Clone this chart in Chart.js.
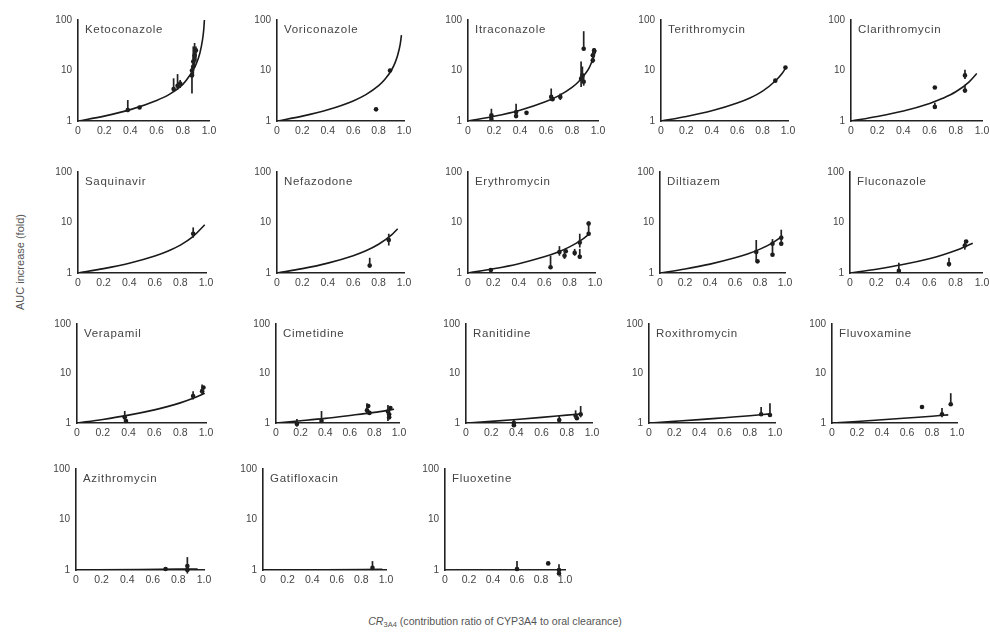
<!DOCTYPE html>
<html>
<head>
<meta charset="utf-8">
<script src="https://cdn.jsdelivr.net/npm/chart.js@4.4.0/dist/chart.umd.min.js"></script>
<style>
  html,body{margin:0;padding:0;background:#fff;}
  #wrap{position:relative;width:990px;height:639px;overflow:hidden;background:#fff;font-family:"Liberation Sans",Arial,sans-serif;}
  canvas{position:absolute;}
  #ytitle{position:absolute;left:20px;top:262px;transform:translate(-50%,-50%) rotate(-90deg);white-space:nowrap;font-size:11px;color:#555;}
  #xtitle{position:absolute;left:495px;top:622px;transform:translate(-50%,-50%);white-space:nowrap;font-size:10.6px;color:#555;}
  #xtitle sub{font-size:7.5px;vertical-align:-2px;}
</style>
</head>
<body>
<div id="wrap">
  <div id="ytitle">AUC increase (fold)</div>
  <div id="xtitle"><i>CR</i><sub>3A4</sub> (contribution ratio of CYP3A4 to oral clearance)</div>
</div>
<script>
// ---------- data ----------
const drugNames = ["Ketoconazole","Voriconazole","Itraconazole","Terithromycin","Clarithromycin",
  "Saquinavir","Nefazodone","Erythromycin","Diltiazem","Fluconazole",
  "Verapamil","Cimetidine","Ranitidine","Roxithromycin","Fluvoxamine",
  "Azithromycin","Gatifloxacin","Fluoxetine"];
const xTickValues = [0,0.2,0.4,0.6,0.8,1.0];
const xTickLabels = ["0","0.2","0.4","0.6","0.8","1.0"];
const yTickValues = [1,10,100];
const yTickLabels = ["1","10","100"];

// predicted curves: [CR, AUC ratio]
const ketoconazoleCurve = [[0,1],[0.2,1.25],[0.4,1.68],[0.6,2.55],[0.7,3.4],[0.8,5.3],[0.85,7.8],[0.9,13],[0.93,22],[0.95,40],[0.96,65],[0.965,100]];
const voriconazoleCurve = [[0,1],[0.2,1.25],[0.4,1.67],[0.6,2.5],[0.7,3.33],[0.8,5],[0.85,6.7],[0.9,10],[0.93,14.3],[0.95,20],[0.97,33],[0.98,50]];
const itraconazoleCurve = [[0,1],[0.2,1.24],[0.4,1.64],[0.6,2.43],[0.7,3.18],[0.8,4.63],[0.85,6],[0.9,8.5],[0.93,11],[0.95,14.4],[0.97,20],[0.985,25]];
const terithromycinCurve = [[0,1],[0.2,1.23],[0.4,1.59],[0.6,2.27],[0.7,2.86],[0.8,3.91],[0.9,6.2],[0.95,8.5],[0.98,11]];
const clarithromycinCurve = [[0,1],[0.2,1.23],[0.4,1.58],[0.6,2.23],[0.7,2.81],[0.8,3.79],[0.9,5.9],[0.96,8.7]];
const saquinavirCurve = [[0,1],[0.2,1.22],[0.4,1.56],[0.6,2.17],[0.7,2.7],[0.8,3.57],[0.9,5.3],[0.99,9]];
const nefazodoneCurve = [[0,1],[0.2,1.22],[0.4,1.57],[0.6,2.2],[0.7,2.75],[0.8,3.7],[0.9,5.6],[0.95,7.5]];
const erythromycinCurve = [[0,1],[0.2,1.21],[0.4,1.53],[0.6,2.09],[0.7,2.55],[0.8,3.29],[0.9,4.63],[0.95,5.8]];
const diltiazemCurve = [[0,1],[0.2,1.2],[0.4,1.5],[0.6,2.0],[0.7,2.38],[0.8,2.97],[0.9,3.96],[0.98,5.4]];
const fluconazoleCurve = [[0,1],[0.2,1.19],[0.4,1.47],[0.6,1.92],[0.7,2.27],[0.8,2.78],[0.93,3.9]];
const verapamilCurve = [[0,1],[0.2,1.18],[0.4,1.44],[0.6,1.84],[0.7,2.14],[0.8,2.55],[0.9,3.16],[0.99,4.0]];
const cimetidineCurve = [[0,1],[0.2,1.11],[0.4,1.24],[0.6,1.42],[0.8,1.64],[0.96,1.89]];
const ranitidineCurve = [[0,1],[0.2,1.08],[0.4,1.18],[0.6,1.3],[0.8,1.44],[0.92,1.53]];
const roxithromycinCurve = [[0,1],[0.2,1.08],[0.4,1.17],[0.6,1.28],[0.8,1.4],[0.96,1.53]];
const fluvoxamineCurve = [[0,1],[0.2,1.07],[0.4,1.16],[0.6,1.26],[0.8,1.37],[0.93,1.46]];
const azithromycinCurve = [[0,1],[0.5,1.02],[0.95,1.05]];
const gatifloxacinCurve = [[0,1],[0.5,1.01],[0.97,1.03]];
const fluoxetineCurve = [];

// observed points: [CR, AUC ratio, low, high]
const ketoconazoleData = [[0.38,1.65,1.5,2.6],[0.47,1.85],[0.73,4.3,3.8,7.0],[0.76,5.0,4.2,8.5],[0.78,5.5,4.5,6.5],[0.87,8,3.5,12],[0.87,10],[0.88,12,8,20],[0.88,15,10,30],[0.89,20,12,35],[0.9,25,15,30]];
const voriconazoleData = [[0.78,1.7],[0.89,10]];
const itraconazoleData = [[0.18,1.3,1.0,1.75],[0.18,1.1],[0.37,1.5,1.2,2.2],[0.37,1.25],[0.45,1.45],[0.64,3.0,2.5,4.4],[0.65,2.7],[0.71,3.0,2.6,3.5],[0.87,6.9,4.7,15],[0.88,8,6,12],[0.89,6,5,8],[0.89,27,27,60],[0.96,20,15,25],[0.97,25,18,28],[0.96,16,14,20]];
const terithromycinData = [[0.9,6.3],[0.98,11.5]];
const clarithromycinData = [[0.64,4.6],[0.64,1.9,1.75,2.3],[0.87,8,6.8,10.3],[0.87,4,3.7,5.2]];
const saquinavirData = [[0.9,6,5,8]];
const nefazodoneData = [[0.73,1.4,1.3,2.0],[0.88,4.5,3.5,6]];
const erythromycinData = [[0.18,1.15],[0.65,1.3,1.2,2.2],[0.72,2.6,2.2,3.4],[0.76,2.2,1.9,3.0],[0.77,2.7],[0.84,2.5,2.2,3.0],[0.88,4.0,3.2,6.0],[0.88,2.1,1.9,3.0],[0.95,6.0,5.5,10.5],[0.95,9.5]];
const diltiazemData = [[0.77,2.6,1.7,4.5],[0.78,1.7],[0.9,3.8,2.4,4.7],[0.9,2.3],[0.97,5,3.5,7.2],[0.97,3.8]];
const fluconazoleData = [[0.37,1.1,1.0,1.6],[0.75,1.5,1.35,2.0],[0.87,3.5,2.9,4.5],[0.88,4.2]];
const verapamilData = [[0.37,1.3,1.05,1.75],[0.38,1.1],[0.9,3.5,3.0,4.4],[0.97,4.4,3.7,6],[0.98,5.2]];
const cimetidineData = [[0.17,0.95,0.85,1.2],[0.37,1.1,1.0,1.75],[0.74,1.8,1.5,2.5],[0.76,1.6],[0.75,2.2],[0.91,1.7,1.1,2.3],[0.92,1.3],[0.93,2.0],[0.92,1.5]];
const ranitidineData = [[0.38,1.0,0.85,1.15],[0.38,0.9],[0.74,1.15,1.0,1.45],[0.87,1.4,1.2,1.8],[0.88,1.25],[0.91,1.5,1.3,2.2]];
const roxithromycinData = [[0.89,1.5,1.4,2.1],[0.96,1.45,1.4,2.5]];
const fluvoxamineData = [[0.72,2.1],[0.88,1.5,1.3,2.0],[0.95,2.4,2.3,4.0]];
const azithromycinData = [[0.7,1.05],[0.87,1.0,0.85,1.8],[0.87,1.2]];
const gatifloxacinData = [[0.89,1.1,1.0,1.5]];
const fluoxetineData = [[0.6,1.05,1.0,1.5],[0.86,1.35],[0.95,1.0,0.85,1.3],[0.95,0.85]];

// ---------- layout (pixel placement of each panel's plot area) ----------
// [x of CR=0, width to CR=1, y of 100, y of 1]
const panelLayout = [
  [78,131,18,121],[277,127,18,121],[468,130,18,121],[661,127,18,121],[851,131,18,121],
  [78,128,170,273],[277,127,170,273],[468,127,170,273],[660,125,170,273],[850,132,170,273],
  [77,129,322,423],[276,123,322,423],[466,126,322,423],[649,126,322,423],[832,125,322,423],
  [76,128,467,570],[263,123,467,570],[445,120,467,570]
];

const curves = [ketoconazoleCurve,voriconazoleCurve,itraconazoleCurve,terithromycinCurve,clarithromycinCurve,
  saquinavirCurve,nefazodoneCurve,erythromycinCurve,diltiazemCurve,fluconazoleCurve,
  verapamilCurve,cimetidineCurve,ranitidineCurve,roxithromycinCurve,fluvoxamineCurve,
  azithromycinCurve,gatifloxacinCurve,fluoxetineCurve];
const observed = [ketoconazoleData,voriconazoleData,itraconazoleData,terithromycinData,clarithromycinData,
  saquinavirData,nefazodoneData,erythromycinData,diltiazemData,fluconazoleData,
  verapamilData,cimetidineData,ranitidineData,roxithromycinData,fluvoxamineData,
  azithromycinData,gatifloxacinData,fluoxetineData];

// ---------- plugins ----------
const errorBars = {
  id:'errorBars',
  afterDatasetsDraw(chart){
    const ds = chart.data.datasets[1];
    if(!ds) return;
    const ctx = chart.ctx, xs = chart.scales.x, ys = chart.scales.y;
    ctx.save();
    ctx.strokeStyle = '#222';
    ctx.lineWidth = 1.7;
    ds.data.forEach(p => {
      if(p.lo == null) return;
      const px = xs.getPixelForValue(p.x);
      ctx.beginPath();
      ctx.moveTo(px, ys.getPixelForValue(p.lo));
      ctx.lineTo(px, ys.getPixelForValue(p.hi));
      ctx.stroke();
    });
    ctx.restore();
  }
};
const panelTitle = {
  id:'panelTitle',
  afterDraw(chart, args, opts){
    const ctx = chart.ctx, a = chart.chartArea;
    ctx.save();
    ctx.font = '11.5px "Liberation Sans", Arial, sans-serif';
    try { ctx.letterSpacing = '0.7px'; } catch(e) {}
    ctx.fillStyle = '#444';
    ctx.textBaseline = 'middle';
    ctx.textAlign = 'left';
    ctx.fillText(opts.text, a.left + 7, a.top + 10);
    ctx.restore();
  }
};

const PADL = 40, PADT = 10, PADR = 16, XH = 22;
const wrap = document.getElementById('wrap');

drugNames.forEach((name, i) => {
  const [x0, span, yTop, yBot] = panelLayout[i];
  const cv = document.createElement('canvas');
  const w = PADL + span + PADR, h = PADT + (yBot - yTop) + XH;
  cv.width = w; cv.height = h;
  cv.style.left = (x0 - PADL) + 'px';
  cv.style.top = (yTop - PADT) + 'px';
  cv.style.width = w + 'px'; cv.style.height = h + 'px';
  wrap.appendChild(cv);

  new Chart(cv, {
    data: {
      datasets: [
        { type:'line', data: curves[i].map(p => ({x:p[0], y:p[1]})),
          borderColor:'#1a1a1a', borderWidth:1.6, pointRadius:0, fill:false,
          cubicInterpolationMode:'monotone' },
        { type:'scatter', data: observed[i].map(p => ({x:p[0], y:p[1], lo:p[2], hi:p[3]})),
          backgroundColor:'#1a1a1a', borderWidth:0, pointRadius:2.3, clip:false }
      ]
    },
    options: {
      responsive:false, animation:false, devicePixelRatio:1,
      layout:{ padding:{ left:0, top:PADT, right:PADR, bottom:0 } },
      plugins:{ legend:{display:false}, tooltip:{enabled:false}, panelTitle:{ text:name } },
      scales:{
        x:{ type:'linear', min:0, max:1,
            grid:{display:false, drawTicks:false},
            border:{display:true, color:'#222', width:1.6},
            afterBuildTicks(s){ s.ticks = xTickValues.map(v => ({value:v})); },
            afterFit(s){ s.height = XH; },
            ticks:{ autoSkip:false, maxRotation:0, padding:4, color:'#444',
                    font:{ family:'"Liberation Sans", Arial, sans-serif', size:10.5 },
                    callback(v){ const k = xTickValues.indexOf(v); return k >= 0 ? xTickLabels[k] : ''; } } },
        y:{ type:'logarithmic', min:1, max:100,
            grid:{display:false, drawTicks:false},
            border:{display:true, color:'#222', width:1.6},
            afterBuildTicks(s){ s.ticks = yTickValues.map(v => ({value:v})); },
            afterFit(s){ s.width = PADL; },
            ticks:{ autoSkip:false, padding:6, color:'#444',
                    font:{ family:'"Liberation Sans", Arial, sans-serif', size:10 },
                    callback(v){ const k = yTickValues.indexOf(v); return k >= 0 ? yTickLabels[k] : ''; } } }
      }
    },
    plugins:[errorBars, panelTitle]
  });
});
</script>
</body>
</html>
